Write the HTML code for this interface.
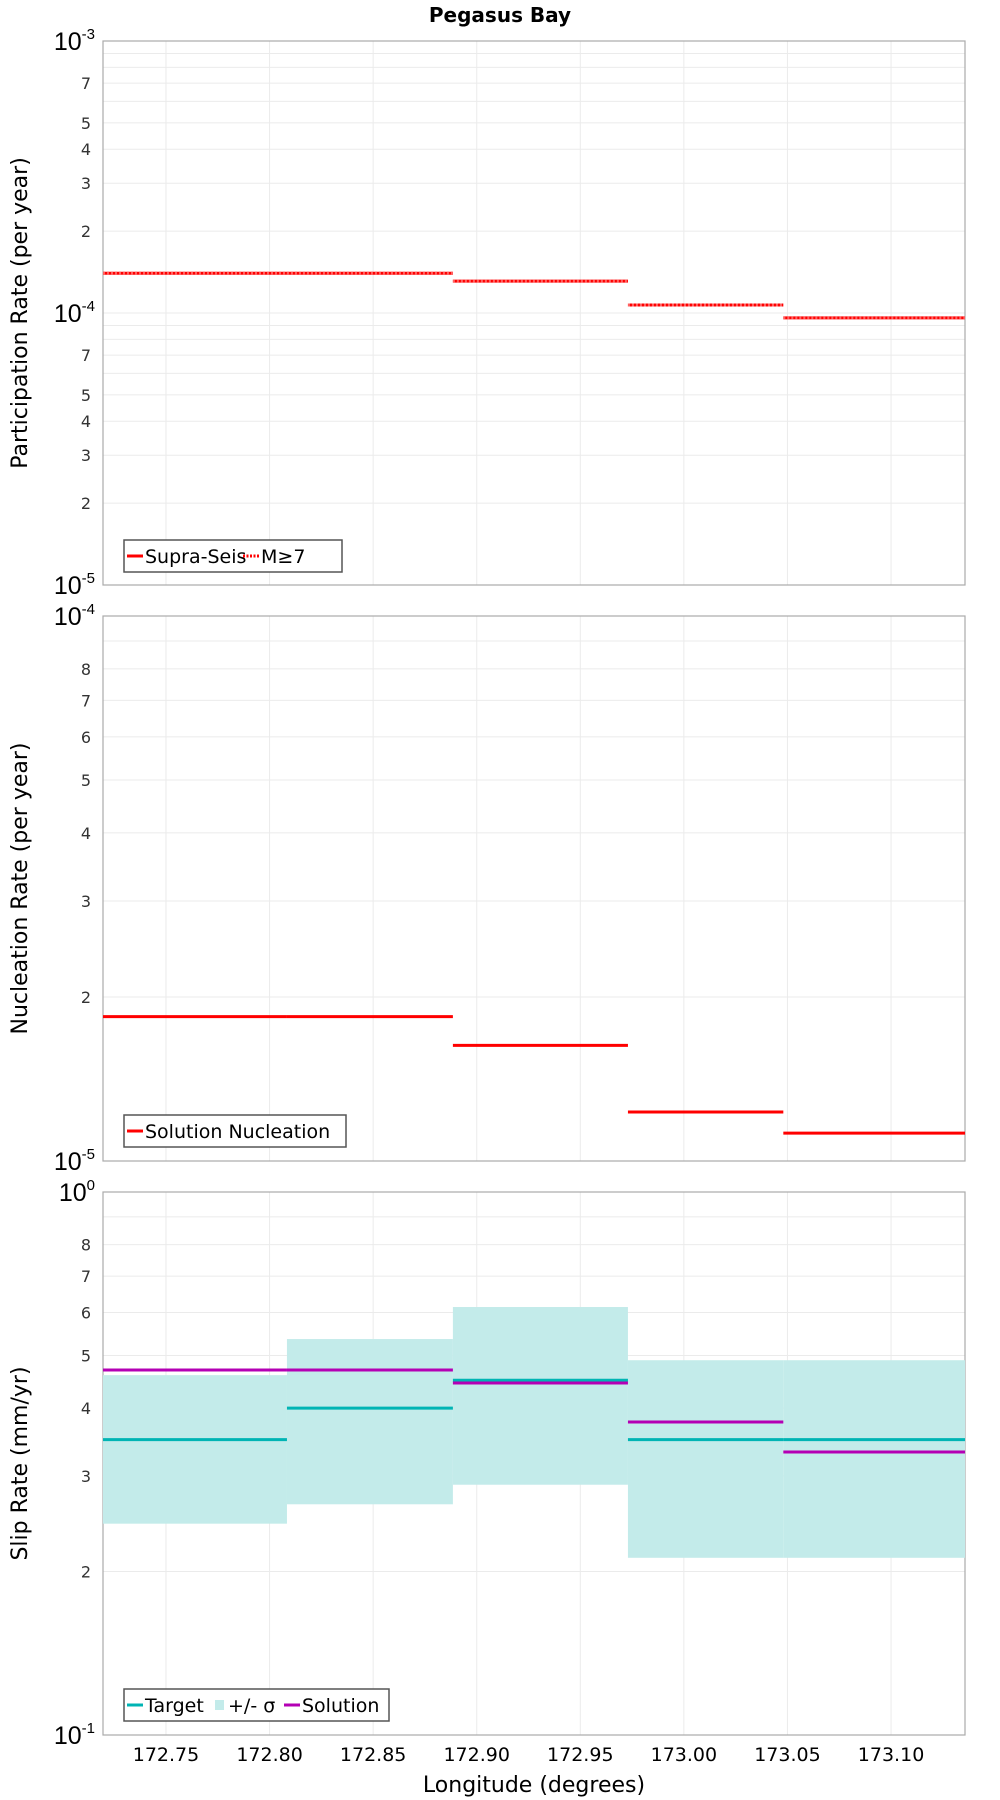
<!DOCTYPE html>
<html><head><meta charset="utf-8"><style>
body{margin:0;background:#fff}
svg{display:block;font-family:"DejaVu Sans","Liberation Sans",sans-serif}
</style></head><body>
<svg id="chart" width="1000" height="1800" viewBox="0 0 1000 1800" xmlns="http://www.w3.org/2000/svg"></svg>
<script>
const edges = [172.7196, 172.8084, 172.8885, 172.973, 173.048, 173.1357];
const xTicks = [172.75, 172.80, 172.85, 172.90, 172.95, 173.00, 173.05, 173.10];
const xTickLabels = ["172.75","172.80","172.85","172.90","172.95","173.00","173.05","173.10"];
const supraSeis = [1.40e-4, 1.40e-4, 1.31e-4, 1.07e-4, 9.6e-5];
const m7 = [1.40e-4, 1.40e-4, 1.31e-4, 1.07e-4, 9.6e-5];
const nucleation = [1.84e-5, 1.84e-5, 1.63e-5, 1.23e-5, 1.125e-5];
const slipTarget = [0.35, 0.40, 0.45, 0.35, 0.35];
const slipSolution = [0.47, 0.47, 0.445, 0.377, 0.332];
const sigmaHigh = [0.46, 0.536, 0.614, 0.49, 0.49];
const sigmaLow = [0.245, 0.266, 0.289, 0.212, 0.212];

const NS = "http://www.w3.org/2000/svg";
const svg = document.getElementById('chart');
function el(tag, attrs, parent, text) {
  const e = document.createElementNS(NS, tag);
  for (const k in attrs) e.setAttribute(k, attrs[k]);
  if (text !== undefined) e.textContent = text;
  (parent || svg).appendChild(e);
  return e;
}
const L = 103, R = 965;
const xs = v => L + (v - edges[0]) / (edges[edges.length - 1] - edges[0]) * (R - L);

const t = el('text', {x: 500, y: 22, 'text-anchor': 'middle', 'font-size': 20, 'font-weight': 'bold'}, svg, 'Pegasus Bay');



function panel(name, top, bottom, minExp, maxExp, labeled, title) {
  const g = el('g', {});
  
  
  const ys = v => bottom - (Math.log10(v) - minExp) / (maxExp - minExp) * (bottom - top);
  for (const xv of xTicks) {
    const gl = el('line', {x1: xs(xv), x2: xs(xv), y1: top, y2: bottom, stroke: '#ebebeb', 'stroke-width': 1}, g);
    
    
  }
  for (let e = minExp; e <= maxExp; e++) {
    for (let m = 1; m <= 9; m++) {
      if (e === maxExp && m > 1) break;
      const v = m * Math.pow(10, e);
      const y = ys(v);
      if (m > 1 || (e > minExp && e < maxExp)) {
        const gl = el('line', {x1: L, x2: R, y1: y, y2: y, stroke: '#ebebeb', 'stroke-width': 1}, g);
        
        
      }
      if (m === 1) {
        const tx = el('text', {x: L - 8, y: y + 9, 'text-anchor': 'end', 'font-size': 25, 'font-family': 'Liberation Sans, sans-serif'}, g);
        
        
        el('tspan', {}, tx, '10');
        el('tspan', {dy: -11, 'font-size': 15}, tx, String(e));
      } else if (labeled.includes(m)) {
        const tx = el('text', {x: L - 12, y: y + 6, 'text-anchor': 'end', 'font-size': 16, fill: '#333'}, g, String(m));
        
        
      }
    }
  }
  const fr = el('rect', {x: L, y: top, width: R - L, height: bottom - top, fill: 'none', stroke: '#aaa', 'stroke-width': 1.2}, g);
  
  
  const yt = el('text', {transform: `translate(27,${(top + bottom) / 2}) rotate(-90)`, 'text-anchor': 'middle', 'font-size': 22}, g, title);
  
  
  return {g, ys};
}
function steps(p, vals, color, name, dash) {
  for (let i = 0; i < vals.length; i++) {
    const y = p.ys(vals[i]);
    const ln = el('line', {x1: xs(edges[i]), x2: xs(edges[i + 1]), y1: y, y2: y, stroke: color, 'stroke-width': 3}, p.g);
    if (dash) ln.setAttribute('stroke-dasharray', dash);
    
    
  }
}
function legend(p, x, y, w, items) {
  const lg = el('g', {}, p.g);
  
  
  el('rect', {x: x, y: y, width: w, height: 32, fill: '#fff', stroke: '#555', 'stroke-width': 1.5}, lg);
  let cx = x + 3;
  for (const it of items) {
    if (it.box) el('rect', {x: cx + 2, y: y + 11, width: 9, height: 10, fill: it.color}, lg);
    else el('line', {x1: cx, x2: cx + 16, y1: y + 16, y2: y + 16, stroke: it.color, 'stroke-width': 3, 'stroke-dasharray': it.dash || 'none'}, lg);
    const tx = el('text', {x: cx + (it.box ? 15 : 18), y: y + 23, 'font-size': 19}, lg, it.label);
    
    
    cx += (it.box ? 15 : 18) + it.w;
  }
}

const p1 = panel('participation-panel', 41, 585, -5, -3, [2,3,4,5,7], 'Participation Rate (per year)');
steps(p1, supraSeis, '#ff0000', 'supra-seis-line');
steps(p1, m7, '#ff6060', 'm7-line', '2,2');
legend(p1, 124, 540, 218, [{color:'#ff0000', label:'Supra-Seis', w:98}, {color:'#ff0000', label:'M≥7', dash:'2,1.5', w:50}]);

const p2 = panel('nucleation-panel', 616, 1161, -5, -4, [2,3,4,5,6,7,8], 'Nucleation Rate (per year)');
steps(p2, nucleation, '#ff0000', 'nucleation-line');
legend(p2, 124, 1115, 222, [{color:'#ff0000', label:'Solution Nucleation', w:190}]);

const p3 = panel('slip-rate-panel', 1192, 1735, -1, 0, [2,3,4,5,6,7,8], 'Slip Rate (mm/yr)');
for (let i = 0; i < sigmaHigh.length; i++) {
  const y1 = p3.ys(sigmaHigh[i]), y2 = p3.ys(sigmaLow[i]);
  const r = el('rect', {x: xs(edges[i]), y: y1, width: xs(edges[i + 1]) - xs(edges[i]), height: y2 - y1, fill: '#c3ebea'}, p3.g);
  
  
}
steps(p3, slipTarget, '#00b4b4', 'target-line');
steps(p3, slipSolution, '#b400b4', 'solution-line');
legend(p3, 124, 1689, 265, [{color:'#00b4b4', label:'Target', w:68}, {color:'#c3ebea', label:'+/- σ', box:true, w:56}, {color:'#b400b4', label:'Solution', w:90}]);

for (let i = 0; i < xTicks.length; i++) {
  const tx = el('text', {x: xs(xTicks[i]), y: 1761, 'text-anchor': 'middle', 'font-size': 19}, svg, xTickLabels[i]);
  
  
}
const xt = el('text', {x: 534, y: 1792, 'text-anchor': 'middle', 'font-size': 22}, svg, 'Longitude (degrees)');


</script>
</body></html>
